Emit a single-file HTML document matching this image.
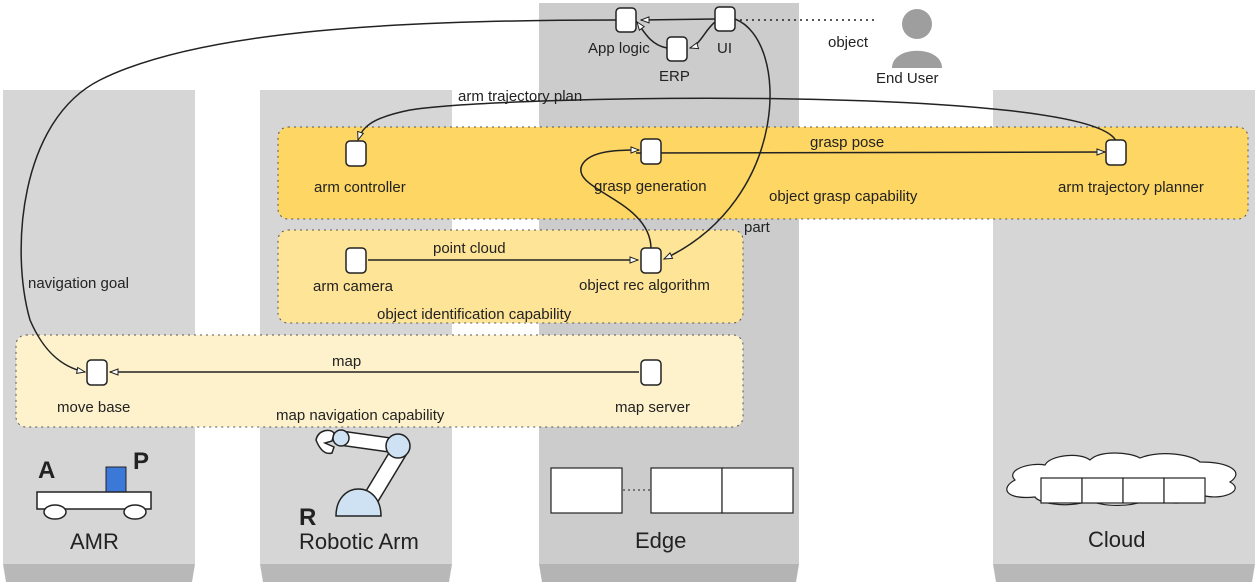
<!DOCTYPE html>
<html><head><meta charset="utf-8"><style>
body{margin:0;background:#fff}
svg text{font-family:"Liberation Sans",sans-serif;fill:#222}
</style></head><body>
<svg width="1257" height="582" viewBox="0 0 1257 582" xmlns="http://www.w3.org/2000/svg">
<defs>
<marker id="a" markerWidth="10" markerHeight="10" refX="9" refY="4" orient="auto" markerUnits="userSpaceOnUse">
<path d="M1,1 L9,4 L1,7 Z" fill="#fff" stroke="#222" stroke-width="1"/></marker>
</defs>
<rect x="3" y="90" width="192" height="474" fill="#d6d6d6"/>
<path d="M3,564 H195 L192,582 H6 Z" fill="#b8b8b8"/>
<rect x="260" y="90" width="192" height="474" fill="#d6d6d6"/>
<path d="M260,564 H452 L449,582 H263 Z" fill="#b8b8b8"/>
<rect x="539" y="3" width="260" height="561" fill="#cccccc"/>
<path d="M539,564 H799 L796,582 H542 Z" fill="#b4b4b4"/>
<rect x="993" y="90" width="262" height="474" fill="#d6d6d6"/>
<path d="M993,564 H1255 L1252,582 H996 Z" fill="#b8b8b8"/>
<rect x="278" y="127" width="970" height="92" rx="10" fill="#fdd663" stroke="#555" stroke-dasharray="2,4"/>
<rect x="278" y="230" width="465" height="93" rx="10" fill="#fee497" stroke="#555" stroke-dasharray="2,4"/>
<rect x="16" y="335" width="727" height="92" rx="10" fill="#fef2cc" stroke="#555" stroke-dasharray="2,4"/>
<g fill="none" stroke="#222" stroke-width="1.5">
<path d="M636,153 L1105,152" marker-end="url(#a)"/>
<path d="M1116,141 C1090,85 500,95 410,110 C370,118 362,128 358,140" marker-end="url(#a)"/>
<path d="M651,248 C650,200 570,190 582,165 C590,150 620,150 639,150" marker-end="url(#a)"/>
<path d="M368,260 L638,260" marker-end="url(#a)"/>
<path d="M639,372 L110,372" marker-end="url(#a)"/>
<path d="M735,19 C790,40 790,200 664,259" marker-end="url(#a)"/>
<path d="M715,19 L641,20" marker-end="url(#a)"/>
<path d="M715,22 C705,30 700,45 690,48" marker-end="url(#a)"/>
<path d="M667,48 C650,45 643,30 637,22" marker-end="url(#a)"/>
<path d="M616,20 C400,20 200,30 100,80 C20,120 10,250 30,320 C45,355 65,368 85,372" marker-end="url(#a)"/>
<path d="M740,20 L875,20" stroke-dasharray="2,4"/>
<path d="M623,490 L651,490" stroke-dasharray="2,3" stroke-width="1"/>
</g>
<g fill="#fff" stroke="#222" stroke-width="1.5">
<rect x="616" y="8" width="20" height="24" rx="4"/>
<rect x="715" y="7" width="20" height="24" rx="4"/>
<rect x="667" y="37" width="20" height="24" rx="4"/>
<rect x="346" y="141" width="20" height="25" rx="4"/>
<rect x="641" y="139" width="20" height="25" rx="4"/>
<rect x="1106" y="140" width="20" height="25" rx="4"/>
<rect x="346" y="248" width="20" height="25" rx="4"/>
<rect x="641" y="248" width="20" height="25" rx="4"/>
<rect x="87" y="360" width="20" height="25" rx="4"/>
<rect x="641" y="360" width="20" height="25" rx="4"/>
</g>
<g font-size="15">
<text x="588" y="53">App logic</text>
<text x="717" y="53">UI</text>
<text x="659" y="81">ERP</text>
<text x="828" y="47">object</text>
<text x="876" y="83">End User</text>
<text x="458" y="101">arm trajectory plan</text>
<text x="810" y="147">grasp pose</text>
<text x="314" y="192">arm controller</text>
<text x="594" y="191">grasp generation</text>
<text x="769" y="201">object grasp capability</text>
<text x="1058" y="192">arm trajectory planner</text>
<text x="744" y="232">part</text>
<text x="433" y="253">point cloud</text>
<text x="313" y="291">arm camera</text>
<text x="579" y="290">object rec algorithm</text>
<text x="377" y="319">object identification capability</text>
<text x="28" y="288">navigation goal</text>
<text x="332" y="366">map</text>
<text x="57" y="412">move base</text>
<text x="615" y="412">map server</text>
<text x="276" y="420">map navigation capability</text>
</g>
<g font-size="22">
<text x="70" y="549">AMR</text>
<text x="299" y="549">Robotic Arm</text>
<text x="635" y="548">Edge</text>
<text x="1088" y="547">Cloud</text>
</g>
<circle cx="917" cy="24" r="15" fill="#9e9e9e"/>
<path d="M892,68 C892,45 942,45 942,68 Z" fill="#9e9e9e"/>
<text x="38" y="478" font-size="24" font-weight="bold">A</text>
<text x="133" y="469" font-size="24" font-weight="bold">P</text>
<rect x="106" y="467" width="20" height="25" fill="#3c78d8" stroke="#222"/>
<rect x="37" y="492" width="114" height="17" fill="#fff" stroke="#222" stroke-width="1.5"/>
<ellipse cx="55" cy="512" rx="11" ry="7" fill="#fff" stroke="#222" stroke-width="1.5"/>
<ellipse cx="135" cy="512" rx="11" ry="7" fill="#fff" stroke="#222" stroke-width="1.5"/>
<g stroke="#222" stroke-width="1.5">
<path d="M341,431 L398,439 L396,453 L339,445 Z" fill="#fff"/>
<path d="M392,448 L406,455 L374,508 L360,501 Z" fill="#fff"/>
<path d="M336,516 C336,480 381,480 381,516 Z" fill="#cfe2f3"/>
<circle cx="398" cy="446" r="12" fill="#cfe2f3"/>
<circle cx="341" cy="438" r="8" fill="#cfe2f3"/>
<path d="M316,440 C318,430 330,428 334,433 L332,441 L325,443 L334,447 L332,453 C325,455 320,450 316,440 Z" fill="#fff"/>
</g>
<text x="299" y="525" font-size="24" font-weight="bold">R</text>
<g fill="#fff" stroke="#222" stroke-width="1.2">
<rect x="551" y="468" width="71" height="45"/>
<rect x="651" y="468" width="71" height="45"/>
<rect x="722" y="468" width="71" height="45"/>
</g>
<path d="M1015,480 C1005,470 1030,462 1045,465 C1050,455 1080,452 1090,460 C1100,450 1130,452 1140,458 C1160,450 1190,454 1200,462 C1230,462 1245,472 1230,482 C1245,490 1225,500 1205,496 C1195,505 1160,505 1150,498 C1135,508 1100,507 1090,500 C1075,508 1040,505 1035,497 C1005,500 1000,488 1015,480 Z" fill="#fff" stroke="#222" stroke-width="1.2"/>
<g fill="#fff" stroke="#222" stroke-width="1.2">
<rect x="1041" y="478" width="41" height="25"/>
<rect x="1082" y="478" width="41" height="25"/>
<rect x="1123" y="478" width="41" height="25"/>
<rect x="1164" y="478" width="41" height="25"/>
</g>
</svg>
</body></html>
